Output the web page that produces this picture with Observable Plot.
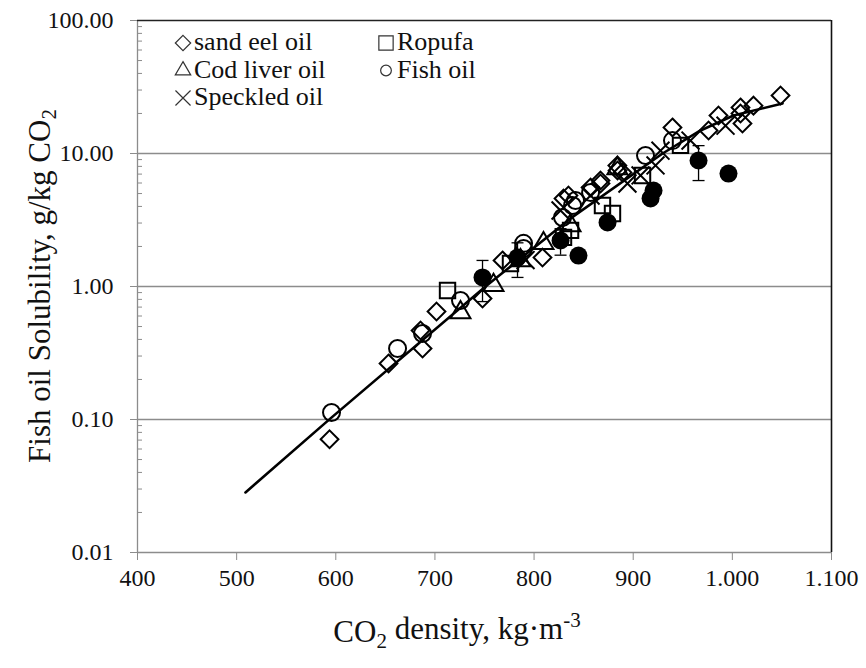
<!DOCTYPE html>
<html>
<head>
<meta charset="utf-8">
<script src="https://cdn.jsdelivr.net/npm/d3@7"></script>
<script src="https://cdn.jsdelivr.net/npm/@observablehq/plot@0.6"></script>
<style>
  html, body { margin: 0; padding: 0; background: #fff; }
  #chart { width: 866px; height: 668px; }
</style>
</head>
<body>
<div id="chart"></div>
<script>
// ---- data ----
const sandEelX = [593.7, 653.2, 687.5, 685.5, 701.6, 748, 768.2, 808.5, 829.7, 834.7, 857, 867, 867, 884.2, 884, 889.2, 939.6, 976, 986, 1008.2, 1008.2, 1010.2, 1021.3, 1048.6];
const sandEelY = [0.071, 0.264, 0.342, 0.467, 0.649, 0.813, 1.57, 1.65, 4.59, 4.83, 5.55, 5.95, 6.27, 7.45, 8.13, 7.2, 15.7, 14.9, 19.3, 22.2, 20.0, 16.8, 22.9, 27.3];

const ropufaX = [712.7, 776.2, 829.7, 836.8, 869, 879.1, 909.4, 947.7];
const ropufaY = [0.933, 1.49, 2.34, 2.64, 4.06, 3.54, 6.84, 11.5];

const codLiverX = [725.8, 759.1, 786.3, 809.5, 836.8, 884];
const codLiverY = [0.638, 1.02, 1.57, 2.11, 2.87, 7.7];

const speckledX = [791.4, 826.7, 857, 894.2, 907.4, 922.5, 927.5, 957.8, 993.1];
const speckledY = [1.58, 3.73, 4.83, 5.95, 6.84, 8.13, 10.5, 12.5, 16.2];

const fishOilX = [595.7, 662.3, 687.5, 725.8, 789.4, 789.4, 828.7, 838.8, 841.8, 857, 912.4, 939.6];
const fishOilY = [0.113, 0.342, 0.443, 0.785, 2.11, 1.93, 3.3, 4.06, 4.43, 5.09, 9.66, 12.5];

// filled circles with error bars
const filledX = [748, 783.3, 826.7, 844.8, 874.1, 917.5, 920.5, 965.9, 996.1];
const filledY = [1.17, 1.65, 2.22, 1.71, 3.03, 4.59, 5.27, 8.86, 7.07];
const filledErr = [0.4, 0.48, 0.5, 0, 0, 0, 0, 2.6, 0];

// fitted curve
const curveX = [508.9, 594.7, 751, 836.8, 929.6, 967.9, 1001.2, 1050.6];
const curveY = [0.0283, 0.102, 1.0, 3.25, 10, 14.9, 19.3, 23.8];

const xTicks = [400, 500, 600, 700, 800, 900, 1000, 1100];
const yTicks = [0.01, 0.1, 1, 10, 100];
const yGrid = [0.1, 1, 10];

const legendLabels = ["sand eel oil", "Cod liver oil", "Speckled oil", "Ropufa", "Fish oil"];

// ---- build tables ----
const zip = (xs, ys) => xs.map((x, i) => ({x, y: ys[i]}));
const sandEel = zip(sandEelX, sandEelY);
const ropufa = zip(ropufaX, ropufaY);
const codLiver = zip(codLiverX, codLiverY);
const speckled = zip(speckledX, speckledY);
const fishOil = zip(fishOilX, fishOilY);
const filled = filledX.map((x, i) => ({x, y: filledY[i], e: filledErr[i]}));
const withErr = filled.filter(d => d.e > 0);
const curve = zip(curveX, curveY);

const minorTicks = [];
for (const dec of [0.01, 0.1, 1, 10]) for (let k = 2; k <= 9; k++) minorTicks.push(+(dec * k).toPrecision(3));

const fam = "Liberation Serif, Times New Roman, serif";
const fmtX = d => d >= 1000 ? (Math.floor(d / 1000) + "." + String(d % 1000).padStart(3, "0")) : String(d);

const capSymbol = {
  draw(context, size) {
    context.moveTo(-6, 0);
    context.lineTo(6, 0);
  }
};

const grey = "#8c8c8c";
const ink = "#000";

const svg = Plot.plot({
  width: 866,
  height: 668,
  marginLeft: 137,
  marginRight: 35,
  marginTop: 20,
  marginBottom: 116,
  style: {fontFamily: fam, fontSize: "24px", color: "#000", background: "#fff", overflow: "visible"},
  x: {domain: [400, 1100]},
  y: {type: "log", domain: [0.01, 100]},
  marks: [
    Plot.gridY(yGrid, {stroke: grey, strokeOpacity: 1, strokeWidth: 1.3}),
    Plot.ruleX([400], {stroke: grey, strokeWidth: 1.3}),
    Plot.ruleY([0.01], {stroke: grey, strokeWidth: 1.3}),
    Plot.ruleY([100], {stroke: "#222", strokeWidth: 1.4}),
    Plot.ruleX([1100], {stroke: "#111", strokeWidth: 1.6}),
    Plot.axisY({ticks: yTicks, tickSize: 7, tickPadding: 17, tickFormat: d => d.toFixed(2), stroke: grey, fill: "#111", fontFamily: fam, fontSize: 24, label: null}),
    Plot.axisY({ticks: minorTicks, tickSize: 5, dx: 5, tickFormat: () => "", stroke: grey, label: null}),
    Plot.axisX({ticks: xTicks, tickSize: 8, tickPadding: 8, tickFormat: fmtX, stroke: grey, fill: "#111", fontFamily: fam, fontSize: 24, label: null}),
    Plot.line(curve, {x: "x", y: "y", stroke: ink, strokeWidth: 2.6}),
    Plot.dot(sandEel, {x: "x", y: "y", symbol: "diamond2", r: 8, stroke: ink, strokeWidth: 2, fill: "none"}),
    Plot.dot(ropufa, {x: "x", y: "y", symbol: "square2", r: 9.8, stroke: ink, strokeWidth: 2, fill: "none"}),
    Plot.dot(codLiver, {x: "x", y: "y", symbol: "triangle2", r: 9.5, stroke: ink, strokeWidth: 2, fill: "none"}),
    Plot.dot(speckled, {x: "x", y: "y", symbol: "times", r: 8.2, stroke: ink, strokeWidth: 2, fill: "none"}),
    Plot.dot(fishOil, {x: "x", y: "y", symbol: "circle", r: 8.5, stroke: ink, strokeWidth: 2, fill: "none"}),
    Plot.ruleX(withErr, {x: "x", y1: d => d.y - d.e, y2: d => d.y + d.e, stroke: ink, strokeWidth: 1.3}),
    Plot.dot(withErr, {x: "x", y: d => d.y + d.e, symbol: capSymbol, stroke: ink, strokeWidth: 1.3}),
    Plot.dot(withErr, {x: "x", y: d => d.y - d.e, symbol: capSymbol, stroke: ink, strokeWidth: 1.3}),
    Plot.dot(filled, {x: "x", y: "y", symbol: "circle", r: 9, fill: ink, stroke: "none"})
  ]
});

document.getElementById("chart").appendChild(svg);

const s = d3.select(svg);

// Axis titles
const yt = s.append("text")
  .attr("transform", "translate(50,286) rotate(-90)")
  .attr("text-anchor", "middle")
  .style("font-size", "31px").attr("fill", "#111");
yt.append("tspan").text("Fish oil Solubility, g/kg CO");
yt.append("tspan").attr("dy", "0.3em").style("font-size", "21px").text("2");

const xt = s.append("text")
  .attr("x", 457).attr("y", 642)
  .attr("text-anchor", "middle")
  .style("font-size", "31px").attr("fill", "#111");
xt.append("tspan").text("CO");
xt.append("tspan").attr("dy", "0.3em").style("font-size", "21px").text("2");
xt.append("tspan").attr("dy", "-0.3em").text(" density, kg·m");
xt.append("tspan").attr("dy", "-0.55em").style("font-size", "21px").text("-3");

// Legend
const legSymbols = ["diamond2", "triangle2", "times", "square2", "circle"];
const symMap = {diamond2: d3.symbolDiamond2, triangle2: d3.symbolTriangle2, times: d3.symbolTimes, square2: d3.symbolSquare2, circle: d3.symbolCircle};
const symSize = {diamond2: 150, triangle2: 170, times: 150, square2: 260, circle: 90};
const legPos = [[183, 50], [183, 77.5], [183, 105], [386, 50], [386, 77.5]];
const leg = s.append("g");
legendLabels.forEach((lab, i) => {
  const [lx, ly] = legPos[i];
  leg.append("path")
    .attr("d", d3.symbol(symMap[legSymbols[i]], symSize[legSymbols[i]])())
    .attr("transform", `translate(${lx},${ly - 7})`)
    .attr("fill", "none").attr("stroke", "#333").attr("stroke-width", 1.2);
  leg.append("text").attr("x", lx + 11).attr("y", ly)
    .attr("text-anchor", "start")
    .style("font-size", "26px")
    .attr("fill", "#111").text(lab);
});

s.selectAll("text").attr("font-family", fam);
</script>
</body>
</html>
